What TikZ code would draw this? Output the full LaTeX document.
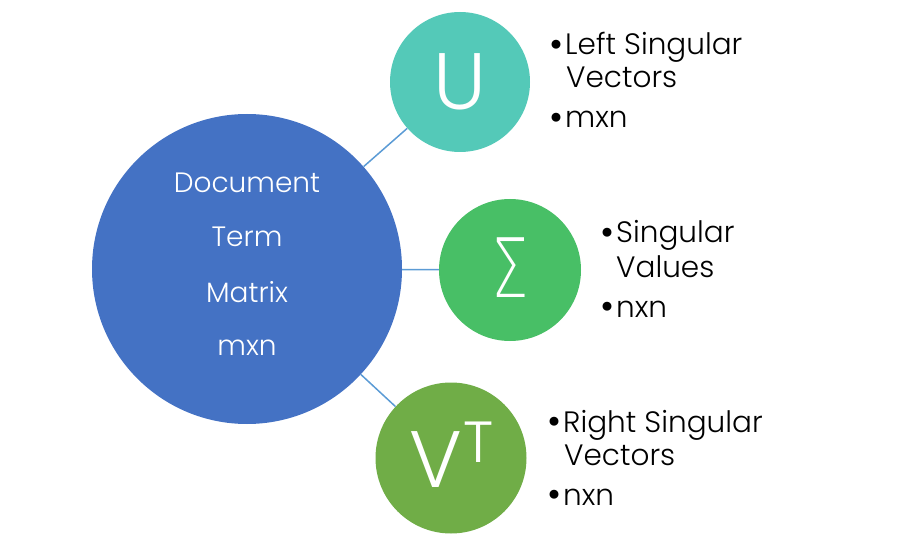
\documentclass[tikz,border=0pt]{standalone}
\usepackage{fontspec}
\setmainfont{Poppins}
\newfontfamily\lightfont{Poppins Light}
\newfontfamily\sigmafont{DejaVu Sans ExtraLight}
\definecolor{bigblue}{HTML}{4472C4}
\definecolor{teal}{HTML}{54C9B8}
\definecolor{sgreen}{HTML}{48BF66}
\definecolor{vgreen}{HTML}{70AD47}
\definecolor{linkblue}{HTML}{5B9BD5}
\newcommand{\mybul}{\raisebox{-2.5pt}{\scalebox{1.3}{\textbullet}}\kern2pt}
\begin{document}
\begin{tikzpicture}[x=1pt,y=-1pt,
  disc/.style={circle,inner sep=0pt,text=white},
  link/.style={draw=linkblue,line width=1.5pt},
  intext/.style={text=white,font=\lightfont\fontsize{28}{28}\selectfont,anchor=base,inner sep=0pt},
  bul/.style={font=\lightfont\fontsize{29.5}{29.5}\selectfont,anchor=base west,inner sep=0pt,text=black},
  big/.style={font=\lightfont\fontsize{80}{80}\selectfont,text=white,inner sep=0pt}]
\useasboundingbox (0,0) rectangle (900,556);
\node[disc,fill=bigblue,minimum size=310pt] (dtm) at (247,269) {};
\node[disc,fill=teal,minimum size=140pt] (u) at (460,82) {};
\node[disc,fill=sgreen,minimum size=142pt] (s) at (510,270) {};
\node[disc,fill=vgreen,minimum size=151pt] (v) at (451,458) {};
\draw[link] (dtm) -- (u);
\draw[link] (dtm) -- (s);
\draw[link] (dtm) -- (v);
\node[intext] (t1) at (247,193) {Document};
\node[intext] (t2) at (247,247) {Term};
\node[intext] (t3) at (247,302) {Matrix};
\node[intext] (t4) at (247,355) {mxn};
\node[big,anchor=base] (ul) at (460,110) {U};
\node[text=white,inner sep=0pt,anchor=base,font=\sigmafont\fontsize{82}{82}\selectfont] (sl) at (510,298) {\scalebox{0.72}[1]{Σ}};
\node[big,anchor=base] (vl) at (436,487) {V};
\node[font=\lightfont\fontsize{58}{58}\selectfont,text=white,inner sep=0pt,anchor=base] (tl) at (479,462) {T};
\node[bul] (ua) at (549,55) {\mybul Left Singular};
\node[bul] (ub) at (566,88) {Vectors};
\node[bul] (uc) at (549,128) {\mybul mxn};
\node[bul] (sa) at (600,243) {\mybul Singular};
\node[bul] (sb) at (616,277) {Values};
\node[bul] (sc) at (600,317) {\mybul nxn};
\node[bul] (va) at (547,432) {\mybul Right Singular};
\node[bul] (vb) at (564,465) {Vectors};
\node[bul] (vc) at (547,505) {\mybul nxn};
\end{tikzpicture}
\end{document}
